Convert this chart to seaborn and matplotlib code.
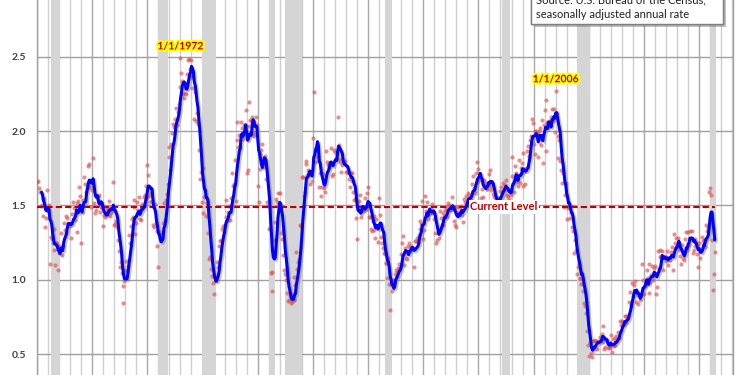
import numpy as np
import pandas as pd
import matplotlib
matplotlib.use("Agg")
import matplotlib.pyplot as plt
import seaborn as sns
from matplotlib import patheffects as pe
from matplotlib.patches import Rectangle

# Monthly housing starts (millions, SAAR), Jan 1959 onward
starts_1959_1968 = [
    1.657, 1.667, 1.620, 1.590, 1.498, 1.503, 1.547, 1.430, 1.540, 1.355, 1.416, 1.601,
    1.460, 1.503, 1.109, 1.289, 1.271, 1.247, 1.197, 1.344, 1.097, 1.246, 1.246, 1.063,
    1.183, 1.226, 1.312, 1.166, 1.228, 1.382, 1.335, 1.312, 1.429, 1.415, 1.385, 1.365,
    1.361, 1.278, 1.443, 1.524, 1.483, 1.404, 1.450, 1.517, 1.324, 1.533, 1.622, 1.564,
    1.244, 1.456, 1.534, 1.689, 1.641, 1.588, 1.614, 1.639, 1.763, 1.779, 1.622, 1.491,
    1.603, 1.820, 1.517, 1.448, 1.467, 1.550, 1.562, 1.569, 1.455, 1.524, 1.486, 1.484,
    1.361, 1.433, 1.423, 1.438, 1.478, 1.488, 1.529, 1.432, 1.482, 1.452, 1.460, 1.656,
    1.370, 1.378, 1.394, 1.352, 1.265, 1.194, 1.086, 1.119, 1.046, 0.843, 0.961, 0.990,
    1.067, 1.123, 1.056, 1.091, 1.304, 1.248, 1.364, 1.407, 1.421, 1.491, 1.538, 1.308,
    1.380, 1.520, 1.466, 1.554, 1.408, 1.405, 1.512, 1.495, 1.556, 1.569, 1.630, 1.548,
]
starts_1969_1978 = [
    1.769, 1.705, 1.561, 1.524, 1.583, 1.528, 1.368, 1.358, 1.507, 1.381, 1.229, 1.327,
    1.085, 1.305, 1.319, 1.264, 1.290, 1.385, 1.517, 1.399, 1.534, 1.580, 1.647, 1.893,
    1.828, 1.741, 1.910, 1.986, 2.049, 2.026, 2.083, 2.158, 2.041, 2.128, 2.182, 2.295,
    2.494, 2.390, 2.334, 2.249, 2.221, 2.254, 2.252, 2.382, 2.481, 2.485, 2.421, 2.366,
    2.481, 2.289, 2.365, 2.084, 2.266, 2.067, 2.123, 2.051, 1.874, 1.677, 1.724, 1.526,
    1.451, 1.752, 1.555, 1.607, 1.426, 1.513, 1.316, 1.142, 1.150, 1.070, 1.026, 0.975,
    1.032, 0.904, 0.993, 1.005, 1.121, 1.087, 1.226, 1.260, 1.264, 1.344, 1.360, 1.321,
    1.367, 1.538, 1.421, 1.395, 1.459, 1.495, 1.401, 1.550, 1.720, 1.629, 1.641, 1.804,
    1.527, 1.943, 2.063, 1.892, 1.971, 1.893, 2.058, 2.020, 1.949, 2.042, 2.042, 2.142,
    1.718, 1.738, 2.032, 2.197, 2.075, 2.070, 2.092, 1.996, 1.970, 1.981, 2.094, 2.044,
]
starts_1979_1988 = [
    1.630, 1.520, 1.847, 1.748, 1.876, 1.913, 1.760, 1.778, 1.832, 1.681, 1.524, 1.498,
    1.341, 1.350, 1.047, 1.051, 0.927, 1.196, 1.269, 1.387, 1.543, 1.520, 1.581, 1.507,
    1.584, 1.314, 1.272, 1.336, 1.164, 1.065, 1.039, 1.000, 0.914, 0.860, 0.861, 0.892,
    0.843, 0.848, 0.904, 0.864, 1.018, 0.963, 1.186, 1.074, 1.120, 1.141, 1.366, 1.362,
    1.689, 1.689, 1.566, 1.589, 1.800, 1.778, 1.707, 1.737, 1.719, 1.646, 1.715, 1.663,
    1.952, 2.260, 1.793, 1.867, 1.829, 1.873, 1.796, 1.621, 1.717, 1.564, 1.621, 1.714,
    1.617, 1.588, 1.868, 1.793, 1.771, 1.769, 1.752, 1.779, 1.888, 1.699, 1.713, 1.872,
    1.857, 1.818, 1.848, 2.093, 1.906, 1.811, 1.791, 1.728, 1.773, 1.784, 1.796, 1.798,
    1.727, 1.724, 1.722, 1.676, 1.625, 1.719, 1.663, 1.721, 1.590, 1.538, 1.542, 1.412,
    1.271, 1.473, 1.532, 1.573, 1.421, 1.478, 1.478, 1.466, 1.463, 1.548, 1.479, 1.583,
]
starts_1989_1998 = [
    1.621, 1.425, 1.422, 1.339, 1.331, 1.397, 1.427, 1.332, 1.279, 1.410, 1.351, 1.251,
    1.551, 1.437, 1.289, 1.248, 1.212, 1.177, 1.171, 1.115, 1.110, 1.014, 1.145, 0.969,
    0.798, 0.965, 0.921, 1.001, 0.996, 1.036, 1.063, 1.049, 1.015, 1.079, 1.103, 1.079,
    1.176, 1.250, 1.297, 1.099, 1.214, 1.145, 1.139, 1.226, 1.186, 1.244, 1.214, 1.227,
    1.210, 1.210, 1.083, 1.258, 1.260, 1.280, 1.254, 1.300, 1.343, 1.392, 1.376, 1.533,
    1.272, 1.337, 1.564, 1.465, 1.526, 1.409, 1.439, 1.450, 1.474, 1.450, 1.511, 1.455,
    1.407, 1.316, 1.249, 1.267, 1.314, 1.281, 1.461, 1.416, 1.369, 1.369, 1.452, 1.431,
    1.467, 1.491, 1.424, 1.516, 1.504, 1.467, 1.472, 1.557, 1.475, 1.392, 1.489, 1.370,
    1.355, 1.486, 1.457, 1.492, 1.442, 1.494, 1.437, 1.390, 1.546, 1.520, 1.510, 1.566,
    1.525, 1.584, 1.567, 1.540, 1.536, 1.641, 1.698, 1.614, 1.582, 1.715, 1.660, 1.792,
]
starts_1999_2008 = [
    1.748, 1.670, 1.710, 1.553, 1.611, 1.559, 1.669, 1.648, 1.635, 1.608, 1.648, 1.708,
    1.636, 1.737, 1.604, 1.626, 1.575, 1.559, 1.463, 1.541, 1.507, 1.549, 1.551, 1.532,
    1.600, 1.625, 1.590, 1.649, 1.605, 1.636, 1.670, 1.567, 1.562, 1.540, 1.602, 1.568,
    1.698, 1.829, 1.642, 1.592, 1.764, 1.717, 1.655, 1.633, 1.804, 1.648, 1.753, 1.788,
    1.853, 1.629, 1.726, 1.643, 1.751, 1.867, 1.897, 1.833, 1.939, 1.967, 2.083, 2.057,
    1.911, 1.846, 1.998, 2.003, 1.981, 1.828, 2.002, 2.024, 1.905, 2.072, 1.782, 2.042,
    2.144, 2.207, 1.864, 2.061, 2.025, 2.068, 2.054, 2.095, 2.151, 2.065, 2.147, 1.994,
    2.273, 2.119, 1.969, 1.821, 1.942, 1.802, 1.737, 1.650, 1.720, 1.491, 1.570, 1.649,
    1.409, 1.480, 1.495, 1.490, 1.415, 1.448, 1.354, 1.330, 1.183, 1.264, 1.197, 1.037,
    1.084, 1.103, 1.005, 1.013, 0.973, 1.046, 0.923, 0.844, 0.820, 0.777, 0.652, 0.560,
]
starts_2009_2020 = [
    0.490, 0.582, 0.505, 0.478, 0.540, 0.585, 0.594, 0.586, 0.585, 0.534, 0.588, 0.581,
    0.614, 0.604, 0.636, 0.687, 0.583, 0.536, 0.546, 0.599, 0.594, 0.543, 0.545, 0.539,
    0.630, 0.517, 0.600, 0.554, 0.561, 0.608, 0.623, 0.585, 0.650, 0.611, 0.719, 0.697,
    0.720, 0.716, 0.695, 0.753, 0.708, 0.757, 0.741, 0.754, 0.847, 0.915, 0.833, 0.976,
    0.888, 0.962, 0.993, 0.847, 0.919, 0.835, 0.897, 0.889, 0.865, 0.906, 1.105, 1.001,
    0.906, 0.959, 0.964, 1.064, 1.010, 0.913, 1.108, 0.985, 1.035, 1.089, 1.001, 1.081,
    1.091, 0.904, 0.954, 1.190, 1.081, 1.200, 1.156, 1.159, 1.191, 1.064, 1.150, 1.162,
    1.128, 1.190, 1.100, 1.147, 1.130, 1.188, 1.221, 1.163, 1.064, 1.309, 1.250, 1.280,
    1.236, 1.279, 1.200, 1.160, 1.109, 1.236, 1.146, 1.180, 1.134, 1.276, 1.320, 1.201,
    1.320, 1.236, 1.327, 1.276, 1.329, 1.183, 1.203, 1.273, 1.228, 1.251, 1.172, 1.086,
    1.246, 1.144, 1.204, 1.286, 1.259, 1.265, 1.220, 1.367, 1.269, 1.327, 1.357, 1.593,
    1.617, 1.567, 1.269, 0.934, 1.038, 1.186,
]

recession_start = [1960.27, 1969.95, 1973.92, 1979.98, 1981.50, 1990.50, 2001.15, 2007.95, 2019.95]
recession_end = [1961.11, 1970.90, 1975.20, 1980.58, 1982.97, 1991.17, 2001.88, 2009.15, 2020.53]

y_ticks = [0.5, 1.0, 1.5, 2.0, 2.5]
y_tick_labels = ["0.5", "1.0", "1.5", "2.0", "2.5"]
current_level = 1.49
peak_labels = ["1/1/1972", "1/1/2006"]
peak_dates = ["1972-01-01", "2006-01-01"]
source_lines = ["Source: U.S. Bureau of the Census,", "seasonally adjusted annual rate"]

values = np.concatenate([starts_1959_1968, starts_1969_1978, starts_1979_1988,
                         starts_1989_1998, starts_1999_2008, starts_2009_2020])
dates = pd.date_range("1959-01-01", periods=len(values), freq="MS")
df = pd.DataFrame({"x": dates.year + (dates.month - 1) / 12.0, "starts": values})
df["ma"] = df["starts"].rolling(6).mean()

sns.set_style("white")
plt.rcParams["font.family"] = ["Lato", "DejaVu Sans"]

fig = plt.figure(figsize=(7.5, 3.75), dpi=100)
fig.patch.set_facecolor("white")
ax = fig.add_axes([37 / 750, 0, 696 / 750, 1])

ax.set_xlim(1959.0, 2022.07)
ax.set_ylim(0.359, 2.882)

# grid
ax.set_xticks(np.arange(1959, 2023, 5))
ax.set_xticks(np.arange(1959, 2023, 1), minor=True)
ax.set_xticklabels([])
ax.tick_params(axis="x", which="both", length=0)
ax.grid(axis="x", which="minor", color="#cfcfcf", lw=1.0, zorder=0)
ax.grid(axis="x", which="major", color="#a8a8a8", lw=1.0, zorder=0)
ax.set_yticks(y_ticks)
ax.set_yticklabels(y_tick_labels)
ax.grid(axis="y", which="major", color="#a0a0a0", lw=1.0, zorder=0)
ax.tick_params(axis="y", which="major", length=4, width=1, color="#a0a0a0",
               pad=4, labelsize=7.5, labelcolor="#404040")
for lab in ax.get_yticklabels():
    lab.set_fontweight("bold")
ax.set_axisbelow(True)
for side in ["top", "bottom"]:
    ax.spines[side].set_visible(False)
for side in ["left", "right"]:
    ax.spines[side].set_color("#a0a0a0")
    ax.spines[side].set_linewidth(1.0)

for s, e in zip(recession_start, recession_end):
    ax.axvspan(s, e, color="#d5d5d5", lw=0, zorder=1)

sns.scatterplot(data=df, x="x", y="starts", ax=ax, s=9, color="#d9534f",
                alpha=0.65, linewidth=0, zorder=3, legend=False)

ax.hlines(current_level, df["x"].min(), df["x"].max(), colors="#c00000",
          linestyles=(0, (3, 1.5)), lw=1.5, zorder=4)

sns.lineplot(data=df, x="x", y="ma", ax=ax, color="#0000ff", lw=2.2, zorder=5,
             legend=False,
             path_effects=[pe.SimpleLineShadow(offset=(1.2, -1.2), shadow_color="#606060", alpha=0.35),
                           pe.Normal()])
ax.set_xlabel("")
ax.set_ylabel("")

ax.text(2001.33, current_level, "Current Level", color="#c00000", ha="center", va="center",
        fontsize=8, fontweight="bold", zorder=6,
        bbox=dict(facecolor="white", edgecolor="none", pad=1.2))

for lab, d in zip(peak_labels, peak_dates):
    ts = pd.Timestamp(d)
    xd = ts.year + (ts.month - 1) / 12.0
    peak = df.loc[(df["x"] >= xd - 1) & (df["x"] <= xd + 1), "starts"].max()
    ax.annotate(lab, xy=(xd, peak), xytext=(0, 4.5), textcoords="offset points",
                ha="center", va="bottom", fontsize=7.5, fontweight="bold", color="#c00000",
                zorder=7,
                path_effects=[pe.withStroke(linewidth=3, foreground="#ffff00")])

# source box (top cropped, as in the reference)
box = Rectangle((531 / 750, 1 - 24 / 375), (723 - 531) / 750, 0.3, transform=fig.transFigure,
                facecolor="white", edgecolor="#7f7f7f", lw=1.0, zorder=10,
                path_effects=[pe.withSimplePatchShadow(offset=(2, -2), shadow_rgbFace="#808080", alpha=0.5),
                              pe.Normal()])
fig.patches.append(box)
fig.text(536 / 750, 1 - 3 / 375, source_lines[0], fontsize=8, color="#202020",
         ha="left", va="baseline", zorder=11)
fig.text(536 / 750, 1 - 18 / 375, source_lines[1], fontsize=8, color="#202020",
         ha="left", va="baseline", zorder=11)

fig.savefig("out.png", dpi=100, facecolor="white")
